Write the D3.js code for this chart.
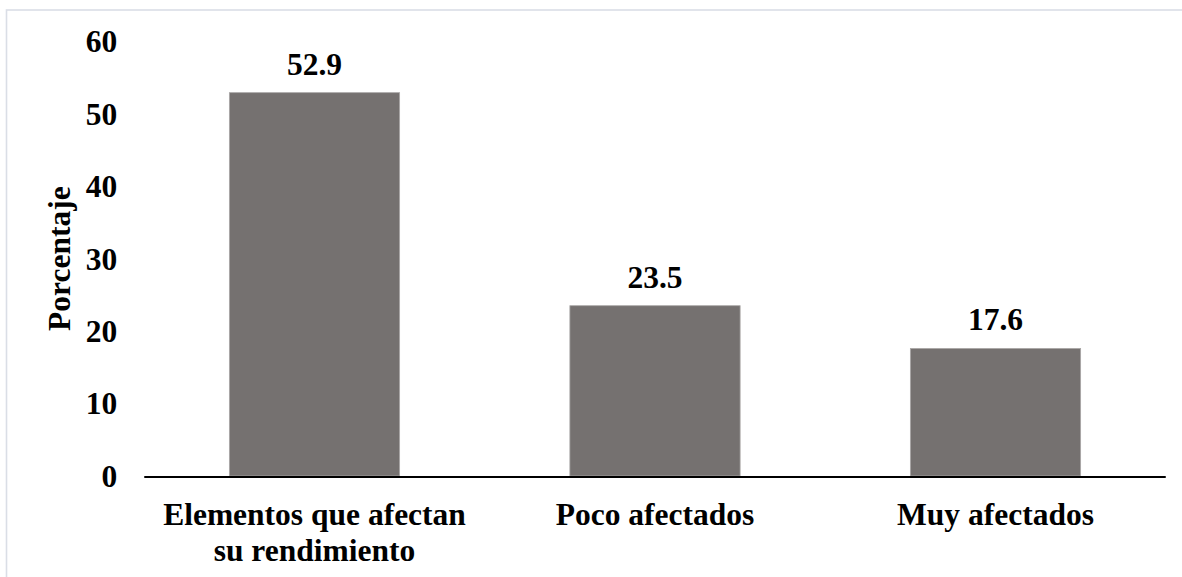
<!DOCTYPE html>
<html>
<head>
<meta charset="utf-8">
<script src="https://cdn.jsdelivr.net/npm/d3@7"></script>
<style>
  html, body { margin: 0; padding: 0; background: #fff; }
  svg { display: block; }
</style>
</head>
<body>
<svg id="chart" width="1182" height="577"></svg>
<script>
const categories = ["Elementos que afectan su rendimiento", "Poco afectados", "Muy afectados"];
const values = [52.9, 23.5, 17.6];
const valueLabels = ["52.9", "23.5", "17.6"];
const yTicks = [0, 10, 20, 30, 40, 50, 60];
const yTitle = "Porcentaje";

const FONT = '"Liberation Serif"';
const svg = d3.select("#chart");
const W = 1182, H = 577;
const plot = { left: 144.25, right: 1165.75, top: 41.2, bottom: 476 };
const fontSize = 31.5;

function styleText(sel) {
  return sel.style("font-family", FONT).style("font-weight", "bold")
    .style("font-size", fontSize + "px").attr("fill", "#000");
}

// outer border
svg.append("rect")
  .attr("x", 6.5).attr("y", 10)
  .attr("width", W + 10).attr("height", H + 10)
  .attr("fill", "none").attr("stroke", "#dadee6").attr("stroke-width", 1.6);

const x = d3.scaleBand().domain(categories).range([plot.left, plot.right]).paddingInner(0.5).paddingOuter(0.25);
const y = d3.scaleLinear().domain([0, 60]).range([plot.bottom, plot.top]);

// bars
svg.append("g").selectAll("rect").data(categories).join("rect")
  .attr("x", d => x(d))
  .attr("y", (d, i) => y(values[i]))
  .attr("width", x.bandwidth())
  .attr("height", (d, i) => y(0) - y(values[i]))
  .attr("fill", "#757170")
  .attr("stroke", "#a9a7a6")
  .attr("stroke-width", 0.8);

// value labels
styleText(svg.append("g").selectAll("text").data(categories).join("text")
  .attr("x", d => x(d) + x.bandwidth() / 2)
  .attr("y", (d, i) => y(values[i]) - 18)
  .attr("text-anchor", "middle")
  .text((d, i) => valueLabels[i]));

// y axis (labels only)
const yAxis = d3.axisLeft(y).tickValues(yTicks).tickSize(0).tickPadding(27).tickFormat(d3.format("d"));
const gy = svg.append("g").attr("transform", `translate(${plot.left},0)`).call(yAxis);
gy.attr("font-family", null).attr("font-size", null);
gy.select(".domain").remove();
styleText(gy.selectAll("text")).attr("dy", "0.33em");

// x axis
const xAxis = d3.axisBottom(x).tickSize(0).tickFormat("");
const gx = svg.append("g").attr("transform", `translate(0,${plot.bottom + 1})`).call(xAxis);
gx.select(".domain").attr("stroke", "#000").attr("stroke-width", 1.8)
  .attr("d", `M${plot.left},0H${plot.right}`);

// category labels with wrapping
const maxW = x.step() * 0.95;
const catG = svg.append("g");
categories.forEach(c => {
  const cx = x(c) + x.bandwidth() / 2;
  const t = styleText(catG.append("text")
    .attr("x", cx)
    .attr("y", 525)
    .attr("text-anchor", "middle"));
  const words = c.split(" ");
  let line = [];
  let tspan = t.append("tspan").attr("x", cx).attr("dy", 0);
  words.forEach(w => {
    line.push(w);
    tspan.text(line.join(" "));
    if (tspan.node().getComputedTextLength() > maxW && line.length > 1) {
      line.pop();
      tspan.text(line.join(" "));
      line = [w];
      tspan = t.append("tspan").attr("x", cx).attr("dy", 36).text(w);
    }
  });
});

// y title
styleText(svg.append("text")
  .attr("transform", `translate(70,${(plot.top + plot.bottom) / 2}) rotate(-90)`)
  .attr("text-anchor", "middle")
  .text(yTitle));
</script>
</body>
</html>
